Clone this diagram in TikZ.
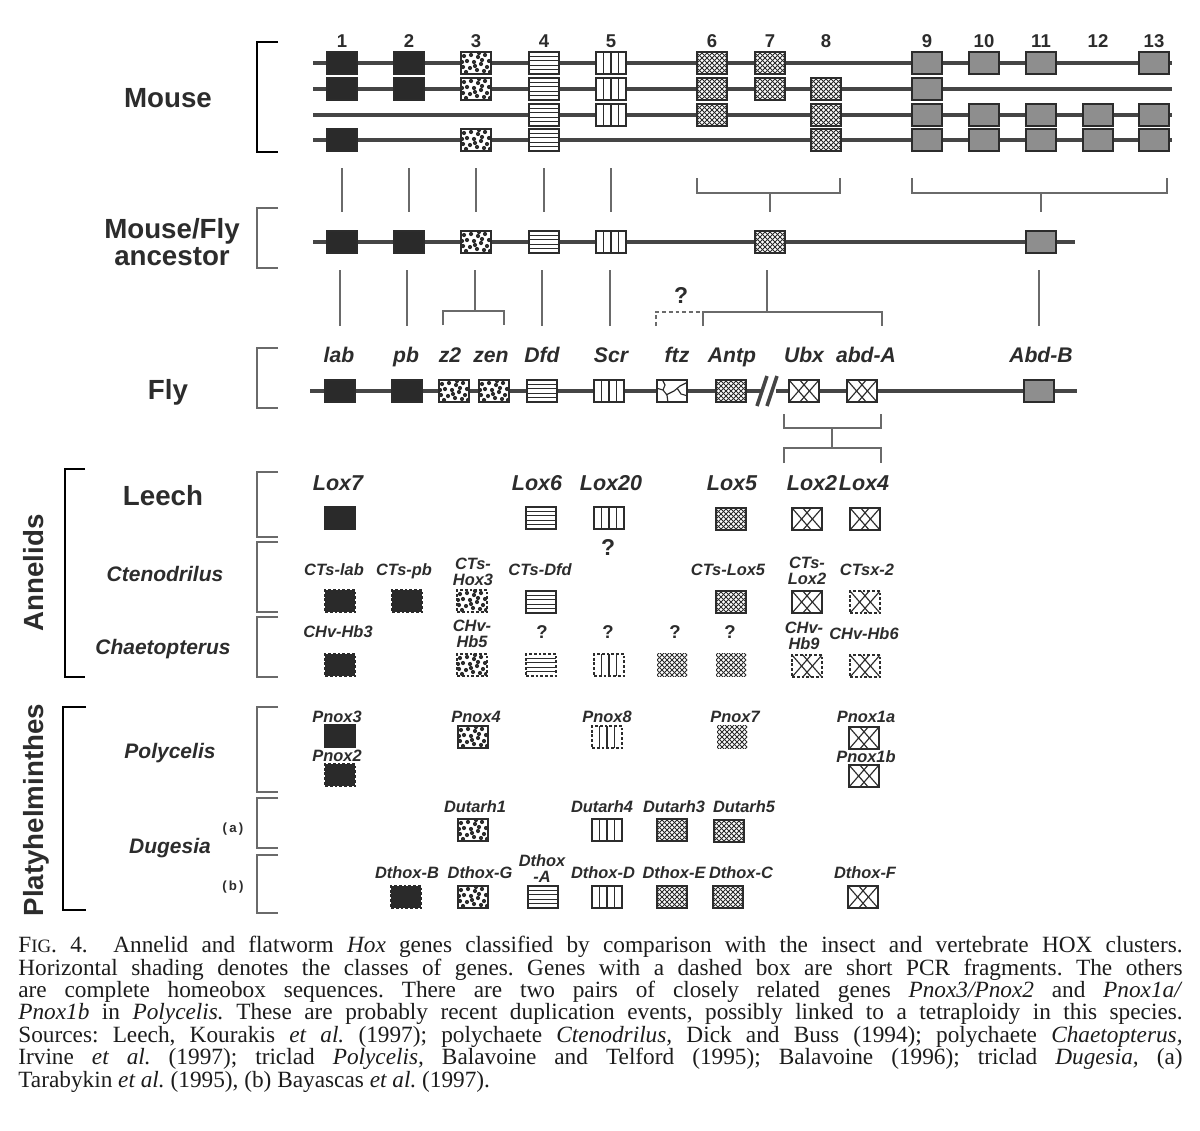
\documentclass[tikz,border=0pt]{standalone}
\usepackage{fontspec}
\setmainfont{Liberation Serif}
\setsansfont{Liberation Sans}
\usetikzlibrary{calc}
\definecolor{ink}{HTML}{2C2C2C}
\definecolor{linec}{HTML}{454545}
\definecolor{darkc}{HTML}{2A2A2A}
\definecolor{grayc}{HTML}{8E8E8E}
\definecolor{brc}{HTML}{6A6A6A}
\definecolor{capc}{HTML}{1C1C1C}

\newcommand\hstripes{%
 \foreach \q in {0.2,0.4,0.6,0.8}{\draw[stripe] ($(path picture bounding box.south west)!\q!(path picture bounding box.north west)$) -- ($(path picture bounding box.south east)!\q!(path picture bounding box.north east)$);}}
\newcommand\vstripes{%
 \foreach \q in {0.25,0.5,0.75}{\draw[stripe] ($(path picture bounding box.south west)!\q!(path picture bounding box.south east)$) -- ($(path picture bounding box.north west)!\q!(path picture bounding box.north east)$);}}
\newcommand\xhatch{%
 \begin{scope}[shift={(path picture bounding box.center)}]
 \foreach \k in {-9,...,9}{\draw[hatchl] (\k*5-16,-16) -- (\k*5+16,16); \draw[hatchl] (\k*5-16,16) -- (\k*5+16,-16);}
 \end{scope}}
\newcommand\dotpat{%
 \begin{scope}[shift={(path picture bounding box.center)}]
 \foreach \p/\r in {-12/-7,-5/-8,2/-6,9/-8,13/-2,-9/-2,-2/-1,5/1,11/4,-13/4,-6/5,1/7,8/8,-10/9,-1/3,6/-3,-14/-1,14/9,3/-10}{\fill[ink] (\p,\r) circle[radius=2.1];}
 \end{scope}}
\newcommand\bigx{%
 \draw[xl] (path picture bounding box.north west) -- ($(path picture bounding box.south west)!.64!(path picture bounding box.south east)$);
 \draw[xl] (path picture bounding box.south west) -- ($(path picture bounding box.north west)!.64!(path picture bounding box.north east)$);
 \draw[xl] (path picture bounding box.north east) -- ($(path picture bounding box.south east)!.64!(path picture bounding box.south west)$);
 \draw[xl] (path picture bounding box.south east) -- ($(path picture bounding box.north east)!.64!(path picture bounding box.north west)$);}
\newcommand\ftzl{%
 \begin{scope}[shift={(path picture bounding box.center)}]
 \draw[xl] (-16,-3) -- (-9,-1) -- (-5,4) -- (-4,12);
 \draw[xl] (-6,4) -- (2,0) -- (8,-5) -- (16,-9);
 \draw[xl] (5,-3) -- (9,3) -- (16,5);
 \draw[xl] (-10,-12) -- (-7,-6) -- (-9,-1);
 \end{scope}}

\begin{document}
\begin{tikzpicture}[x=0.5669pt,y=-0.5669pt,
 stripe/.style={solid,line width=.65pt,draw=ink},
 hatchl/.style={solid,line width=.5pt,draw=ink},
 xl/.style={solid,line width=.65pt,draw=ink},
 chrom/.style={draw=linec,line width=2pt},
 bbr/.style={draw=black,line width=1.6pt},
 gbr/.style={draw=brc,line width=.9pt},
 conn/.style={draw=brc,line width=.9pt},
 gbase/.style={draw=ink,line width=1.1pt,minimum width=17pt,minimum height=12.5pt,inner sep=0pt,outer sep=0pt,fill=white},
 gs/.style={gbase,fill=darkc},
 gg/.style={gbase,fill=grayc},
 gh/.style={gbase,path picture={\hstripes}},
 gv/.style={gbase,path picture={\vstripes}},
 gd/.style={gbase,path picture={\dotpat}},
 gc/.style={gbase,path picture={\xhatch}},
 gx/.style={gbase,path picture={\bigx}},
 gf/.style={gbase,path picture={\ftzl}},
 dsh/.style={dash pattern=on 1.6pt off 1.1pt},
 gsd/.style={gbase,fill=darkc,draw=darkc,line width=1.4pt,dsh},
 gdd/.style={gd,line width=.8pt,dsh},
 ghd/.style={gh,line width=.8pt,dsh},
 gvd/.style={gv,line width=.8pt,dsh},
 gxd/.style={gx,line width=.8pt,dsh},
 gcn/.style={gc,draw=none},
 numl/.style={font=\fontsize{10.5}{12}\selectfont\sffamily\bfseries,text=ink,anchor=base,inner sep=0pt},
 fl/.style={font=\fontsize{12}{13}\selectfont\sffamily\bfseries\itshape,text=ink,anchor=base,inner sep=0pt},
 ll/.style={font=\fontsize{12.2}{13}\selectfont\sffamily\bfseries\itshape,text=ink,anchor=base,inner sep=0pt},
 sl/.style={font=\fontsize{9.3}{9.1}\selectfont\sffamily\bfseries\itshape,text=ink,anchor=base,inner sep=0pt},
 sltwo/.style={sl,anchor=center,align=center},
 bigl/.style={font=\fontsize{15.7}{15.3}\selectfont\sffamily\bfseries,text=ink,anchor=base,inner sep=0pt},
 spl/.style={font=\fontsize{11.9}{13}\selectfont\sffamily\bfseries\itshape,text=ink,anchor=base,inner sep=0pt},
 qbig/.style={font=\fontsize{13}{14}\selectfont\sffamily\bfseries,text=ink,anchor=base,inner sep=0pt},
 qsm/.style={font=\fontsize{10.5}{12}\selectfont\sffamily\bfseries,text=ink,anchor=base,inner sep=0pt},
 abl/.style={font=\fontsize{7.5}{9}\selectfont\sffamily\bfseries,text=ink,anchor=base,inner sep=0pt}
]
\useasboundingbox (0,0) rectangle (1200,1130);
\fill[white] (0,0) rectangle (1200,1130);

%================ MOUSE
\draw[bbr] (278,42) -- (257,42) -- (257,152) -- (278,152);
\node[bigl] (mouse) at (168,107) {Mouse};
\foreach \r/\y in {1/63,2/89,3/115,4/140}{
  \coordinate (ml\r a) at (313,\y); \coordinate (ml\r b) at (1172,\y);
  \draw[chrom] (ml\r a) -- (ml\r b);}
\foreach \n/\x in {1/342,2/409,3/476,4/544,5/611,6/712,7/770,8/826,9/927,10/984,11/1041,12/1098,13/1154}
  \node[numl] (num\n) at (\x,47) {\n};
\foreach \n/\x/\s in {1/342/gs,2/409/gs,3/476/gd,4/544/gh,5/611/gv,6/712/gc,7/770/gc,9/927/gg,10/984/gg,11/1041/gg,13/1154/gg}
  \node[\s] (ma\n) at (\x,63) {};
\foreach \n/\x/\s in {1/342/gs,2/409/gs,3/476/gd,4/544/gh,5/611/gv,6/712/gc,7/770/gc,8/826/gc,9/927/gg}
  \node[\s] (mb\n) at (\x,89) {};
\foreach \n/\x/\s in {4/544/gh,5/611/gv,6/712/gc,8/826/gc,9/927/gg,10/984/gg,11/1041/gg,12/1098/gg,13/1154/gg}
  \node[\s] (mc\n) at (\x,115) {};
\foreach \n/\x/\s in {1/342/gs,3/476/gd,4/544/gh,8/826/gc,9/927/gg,10/984/gg,11/1041/gg,12/1098/gg,13/1154/gg}
  \node[\s] (md\n) at (\x,140) {};

% mouse -> ancestor connectors
\foreach \x [count=\i] in {342,409,476,544,611}{
  \coordinate (ua\i) at (\x,168); \coordinate (ub\i) at (\x,212);
  \draw[conn] (ua\i) -- (ub\i);}
\coordinate (b6l) at (697,178); \coordinate (b6r) at (840,178);
\coordinate (b6s) at (770,193); \coordinate (b6e) at (770,212);
\draw[conn] (b6l) |- (b6s) -| (b6r); \draw[conn] (b6s) -- (b6e);
\coordinate (b9l) at (912,178); \coordinate (b9r) at (1167,178);
\coordinate (b9s) at (1041,193); \coordinate (b9e) at (1041,212);
\draw[conn] (b9l) |- (b9s) -| (b9r); \draw[conn] (b9s) -- (b9e);

%================ ANCESTOR
\draw[gbr] (278,208) -- (257,208) -- (257,268) -- (278,268);
\node[bigl,anchor=center,align=center] (anc) at (172,242) {Mouse/Fly\\ancestor};
\coordinate (al1) at (313,242); \coordinate (al2) at (1075,242);
\draw[chrom] (al1) -- (al2);
\foreach \n/\x/\s in {1/342/gs,2/409/gs,3/476/gd,4/544/gh,5/611/gv,7/770/gc,11/1041/gg}
  \node[\s] (an\n) at (\x,242) {};

% ancestor -> fly connectors
\foreach \x [count=\i] in {340,407,542,610,1039}{
  \coordinate (va\i) at (\x,270); \coordinate (vb\i) at (\x,326);
  \draw[conn] (va\i) -- (vb\i);}
\coordinate (zs) at (475,270); \coordinate (zm) at (475,311);
\coordinate (zl) at (443,325); \coordinate (zr) at (504,325);
\draw[conn] (zs) -- (zm); \draw[conn] (zl) |- (zm) -| (zr);
\coordinate (as) at (767,270); \coordinate (am) at (767,312);
\coordinate (al) at (703,326); \coordinate (ar) at (882,326);
\draw[conn] (as) -- (am); \draw[conn] (al) |- (am) -| (ar);
\coordinate (dl) at (656,326); \coordinate (dm) at (703,312);
\draw[conn,dash pattern=on 2.2pt off 1.6pt] (dl) |- (dm);
\node[qbig] (qftz) at (681,303) {?};

%================ FLY
\draw[gbr] (278,348) -- (257,348) -- (257,408) -- (278,408);
\node[bigl] (fly) at (168,399) {Fly};
\coordinate (fl1) at (310,391); \coordinate (fl2) at (762,391);
\coordinate (fl3) at (776,391); \coordinate (fl4) at (1077,391);
\draw[chrom] (fl1) -- (fl2); \draw[chrom] (fl3) -- (fl4);
\coordinate (k1a) at (757,406); \coordinate (k1b) at (767,376);
\coordinate (k2a) at (767,406); \coordinate (k2b) at (777,376);
\draw[draw=linec,line width=2pt] (k1a) -- (k1b); \draw[draw=linec,line width=2pt] (k2a) -- (k2b);
\node[gs] (flab) at (340,391) {};
\node[gs] (fpb) at (407,391) {};
\node[gd] (fz2) at (454,391) {};
\node[gd] (fzen) at (494,391) {};
\node[gh] (fdfd) at (542,391) {};
\node[gv] (fscr) at (609,391) {};
\node[gf] (fftz) at (672,391) {};
\node[gc] (fantp) at (731,391) {};
\node[gx] (fubx) at (804,391) {};
\node[gx] (fabda) at (862,391) {};
\node[gg] (fabdb) at (1039,391) {};
\node[fl] (tlab) at (339,362) {lab};
\node[fl] (tpb) at (406,362) {pb};
\node[fl] (tz2) at (450,362) {z2};
\node[fl] (tzen) at (491,362) {zen};
\node[fl] (tdfd) at (542,362) {Dfd};
\node[fl] (tscr) at (611,362) {Scr};
\node[fl] (tftz) at (677,362) {ftz};
\node[fl] (tantp) at (732,362) {Antp};
\node[fl] (tubx) at (804,362) {Ubx};
\node[fl] (tabda) at (866,362) {abd-A};
\node[fl] (tabdb) at (1041,362) {Abd-B};
% Ubx/abd-A bracket down to leech
\coordinate (ul) at (784,414); \coordinate (ur) at (881,414);
\coordinate (um) at (832,428); \coordinate (un) at (832,448);
\coordinate (ll) at (784,463); \coordinate (lr) at (881,463);
\draw[conn] (ul) |- (um) -| (ur); \draw[conn] (um) -- (un);
\draw[conn] (ll) |- (un) -| (lr);

%================ ANNELIDS
\draw[bbr] (85,469) -- (65,469) -- (65,677) -- (85,677);
\node[bigl,rotate=90] (annel) at (43,573) {Annelids};
\draw[gbr] (278,472) -- (257,472) -- (257,537) -- (278,537);
\draw[gbr] (278,542) -- (257,542) -- (257,612) -- (278,612);
\draw[gbr] (278,617) -- (257,617) -- (257,677) -- (278,677);
\node[bigl] (leech) at (163,505) {Leech};
\node[spl] (cteno) at (165,581) {Ctenodrilus};
\node[spl] (chaet) at (163,654) {Chaetopterus};
% Leech
\node[ll] (tlox7) at (338,490) {Lox7};
\node[ll] (tlox6) at (537,490) {Lox6};
\node[ll] (tlox20) at (611,490) {Lox20};
\node[ll] (tlox5) at (732,490) {Lox5};
\node[ll] (tlox2) at (812,490) {Lox2};
\node[ll] (tlox4) at (864,490) {Lox4};
\node[gs,draw=darkc] (blox7) at (340,518) {};
\node[gh] (blox6) at (541,518) {};
\node[gv] (blox20) at (609,518) {};
\node[gc] (blox5) at (731,519) {};
\node[gx] (blox2) at (807,519) {};
\node[gx] (blox4) at (865,519) {};
\node[qbig] (qlox20) at (608,555) {?};
% Ctenodrilus
\node[sl] (tcl) at (334,575) {CTs-lab};
\node[sl] (tcp) at (404,575) {CTs-pb};
\node[sltwo] (tch) at (473,572) {CTs-\\Hox3};
\node[sl] (tcd) at (540,575) {CTs-Dfd};
\node[sl] (tc5) at (728,575) {CTs-Lox5};
\node[sltwo] (tc2) at (807,571) {CTs-\\Lox2};
\node[sl] (tcx) at (867,575) {CTsx-2};
\node[gsd] (bcl) at (340,601) {};
\node[gsd] (bcp) at (407,601) {};
\node[gdd] (bch) at (472,601) {};
\node[gh] (bcd) at (541,602) {};
\node[gc] (bc5) at (731,602) {};
\node[gx] (bc2) at (807,602) {};
\node[gxd] (bcx) at (865,602) {};
% Chaetopterus
\node[sl] (th3) at (338,637) {CHv-Hb3};
\node[sltwo] (th5) at (472,634) {CHv-\\Hb5};
\node[qsm] (q1) at (542,638) {?};
\node[qsm] (q2) at (608,638) {?};
\node[qsm] (q3) at (675,638) {?};
\node[qsm] (q4) at (730,638) {?};
\node[sltwo] (th9) at (804,636) {CHv-\\Hb9};
\node[sl] (th6) at (864,639) {CHv-Hb6};
\node[gsd] (bh3) at (340,665) {};
\node[gdd] (bh5) at (472,665) {};
\node[ghd] (bq1) at (541,665) {};
\node[gvd] (bq2) at (609,665) {};
\node[gcn] (bq3) at (672,665) {};
\node[gcn] (bq4) at (731,665) {};
\node[gxd] (bh9) at (807,666) {};
\node[gxd] (bh6) at (865,666) {};

%================ PLATYHELMINTHES
\draw[bbr] (86,707) -- (63,707) -- (63,910) -- (86,910);
\node[bigl,rotate=90] (platy) at (43,810) {Platyhelminthes};
\draw[gbr] (278,707) -- (257,707) -- (257,792) -- (278,792);
\draw[gbr] (278,798) -- (257,798) -- (257,848) -- (278,848);
\draw[gbr] (278,855) -- (257,855) -- (257,913) -- (278,913);
\node[spl] (polyc) at (170,758) {Polycelis};
\node[spl] (duges) at (170,853) {Dugesia};
\node[abl] (dga) at (233,832) {(\,a\,)};
\node[abl] (dgb) at (233,890) {(\,b\,)};
% Polycelis
\node[sl] (tp3) at (337,722) {Pnox3};
\node[sl] (tp2) at (337,761) {Pnox2};
\node[sl] (tp4) at (476,722) {Pnox4};
\node[sl] (tp8) at (607,722) {Pnox8};
\node[sl] (tp7) at (735,722) {Pnox7};
\node[sl] (tp1a) at (866,722) {Pnox1a};
\node[sl] (tp1b) at (866,762) {Pnox1b};
\node[gs,draw=darkc] (bp3) at (340,736) {};
\node[gsd] (bp2) at (340,775) {};
\node[gd] (bp4) at (473,737) {};
\node[gvd] (bp8) at (607,737) {};
\node[gcn] (bp7) at (732,737) {};
\node[gx] (bp1a) at (864,738) {};
\node[gx] (bp1b) at (864,776) {};
% Dugesia (a)
\node[sl] (tu1) at (475,812) {Dutarh1};
\node[sl] (tu4) at (602,812) {Dutarh4};
\node[sl] (tu3) at (674,812) {Dutarh3};
\node[sl] (tu5) at (744,812) {Dutarh5};
\node[gd] (bu1) at (473,830) {};
\node[gv] (bu4) at (607,830) {};
\node[gc] (bu3) at (672,830) {};
\node[gc] (bu5) at (729,831) {};
% Dugesia (b)
\node[sl] (tdb) at (407,878) {Dthox-B};
\node[sl] (tdg) at (480,878) {Dthox-G};
\node[sltwo] (tda) at (542,869) {Dthox\\-A};
\node[sl] (tdd) at (603,878) {Dthox-D};
\node[sl] (tde) at (674,878) {Dthox-E};
\node[sl] (tdc) at (741,878) {Dthox-C};
\node[sl] (tdf) at (865,878) {Dthox-F};
\node[gsd] (bdb) at (406,897) {};
\node[gd] (bdg) at (473,897) {};
\node[gh] (bda) at (543,897) {};
\node[gv] (bdd) at (607,897) {};
\node[gc] (bde) at (672,897) {};
\node[gc] (bdc) at (728,897) {};
\node[gx] (bdf) at (863,897) {};

%================ CAPTION
\node[anchor=north west,inner sep=0pt,text width=660pt,align=justify,text=capc,
      font=\fontsize{13.2}{12.7}\selectfont\frenchspacing] (cap) at (18,936)
{F{\fontsize{10.7}{12}\selectfont IG}. 4.\hspace{1.1em}Annelid and flatworm \textit{Hox} genes classified by comparison with the insect and vertebrate HOX clusters.\linebreak
Horizontal shading denotes the classes of genes. Genes with a dashed box are short PCR fragments. The others\linebreak
are complete homeobox sequences. There are two pairs of closely related genes \textit{Pnox3/Pnox2} and \textit{Pnox1a/}\linebreak
\textit{Pnox1b} in \textit{Polycelis.} These are probably recent duplication events, possibly linked to a tetraploidy in this species.\linebreak
Sources: Leech, Kourakis \textit{et al.} (1997); polychaete \textit{Ctenodrilus,} Dick and Buss (1994); polychaete \textit{Chaetopterus,}\linebreak
Irvine \textit{et al.} (1997); triclad \textit{Polycelis,} Balavoine and Telford (1995); Balavoine (1996); triclad \textit{Dugesia,} (a)\linebreak
Tarabykin \textit{et al.} (1995), (b) Bayascas \textit{et al.} (1997).};
\end{tikzpicture}
\end{document}
